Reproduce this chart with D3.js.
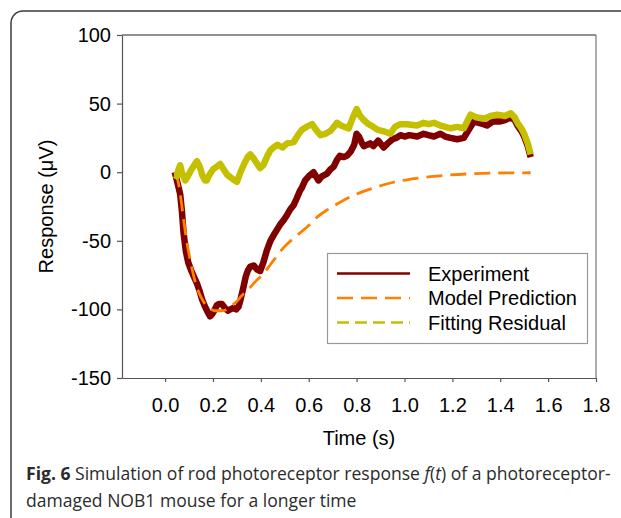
<!DOCTYPE html>
<html>
<head>
<meta charset="utf-8">
<script src="https://cdn.jsdelivr.net/npm/d3@7"></script>
<style>
  body { margin: 0; background: #fff; }
  svg text { font-family: "Liberation Sans", Arial, sans-serif; }
</style>
</head>
<body>
<div class="canvas"></div>
<script>
// data (time in s, response in uV)
const expTime = [0.040, 0.045, 0.055, 0.063, 0.070, 0.077, 0.087, 0.097, 0.110, 0.120, 0.133, 0.145, 0.155, 0.167, 0.178, 0.188, 0.198, 0.205, 0.216, 0.226, 0.237, 0.250, 0.262, 0.272, 0.285, 0.297, 0.307, 0.315, 0.327, 0.337, 0.345, 0.355, 0.370, 0.385, 0.397, 0.410, 0.425, 0.440, 0.453, 0.467, 0.481, 0.495, 0.510, 0.523, 0.537, 0.550, 0.562, 0.572, 0.585, 0.600, 0.620, 0.641, 0.655, 0.677, 0.690, 0.704, 0.718, 0.730, 0.745, 0.760, 0.775, 0.790, 0.800, 0.810, 0.820, 0.830, 0.844, 0.857, 0.870, 0.890, 0.913, 0.930, 0.950, 0.965, 0.983, 1.000, 1.020, 1.053, 1.080, 1.100, 1.123, 1.150, 1.170, 1.192, 1.220, 1.248, 1.265, 1.290, 1.310, 1.330, 1.345, 1.370, 1.400, 1.420, 1.444, 1.460, 1.472, 1.488, 1.500, 1.515, 1.527];
const expValue = [0, -3, -10, -16, -28, -44, -58, -66, -72, -76, -81, -87, -93, -98, -102, -105, -103, -101, -97, -96, -96, -99, -101, -100, -99, -100, -98, -93, -84, -76, -72, -69, -68, -71, -72, -66, -57, -50, -46, -42, -38, -35, -31, -27, -24, -19, -14, -11, -6, -3, 0, -6, -3, -1, 2, 4, 9, 12, 11, 12, 15, 20, 28, 26, 22, 19, 20, 21, 19, 23, 18, 21, 24, 25, 27, 26, 27, 26, 28, 27, 26, 28, 26, 25, 24, 25, 30, 37, 36, 35, 34, 37, 37, 38, 40, 38, 34, 30, 26, 19, 11];

const modelTime = [0.040, 0.050, 0.056, 0.065, 0.077, 0.090, 0.105, 0.120, 0.135, 0.150, 0.167, 0.188, 0.210, 0.237, 0.260, 0.280, 0.300, 0.320, 0.345, 0.370, 0.410, 0.450, 0.495, 0.545, 0.593, 0.640, 0.677, 0.720, 0.774, 0.820, 0.871, 0.950, 1.053, 1.120, 1.192, 1.260, 1.332, 1.430, 1.527];
const modelValue = [0, -4, -8, -18, -34, -50, -64, -76, -85, -91, -96, -99.5, -101, -101, -100, -97, -94, -90, -86, -81, -74, -65, -55, -47, -40, -32, -27.5, -23, -18, -14.5, -11.5, -7.5, -4.4, -3, -2, -1.3, -0.8, -0.5, -0.4];

const resTime = [0.040, 0.049, 0.056, 0.063, 0.070, 0.084, 0.095, 0.110, 0.125, 0.133, 0.145, 0.155, 0.167, 0.174, 0.185, 0.200, 0.215, 0.230, 0.245, 0.260, 0.275, 0.290, 0.300, 0.315, 0.330, 0.345, 0.356, 0.370, 0.385, 0.397, 0.410, 0.425, 0.440, 0.453, 0.470, 0.490, 0.510, 0.537, 0.555, 0.572, 0.590, 0.614, 0.630, 0.649, 0.670, 0.690, 0.705, 0.718, 0.735, 0.750, 0.767, 0.780, 0.800, 0.815, 0.830, 0.850, 0.870, 0.886, 0.910, 0.941, 0.960, 0.983, 1.010, 1.053, 1.080, 1.100, 1.123, 1.150, 1.170, 1.192, 1.220, 1.248, 1.265, 1.276, 1.300, 1.332, 1.360, 1.388, 1.420, 1.444, 1.460, 1.472, 1.488, 1.500, 1.515, 1.527];
const resValue = [-2, -3, 2, 5, 0, -6, -3, 2, 6, 8, 4, -2, -6, -6, -2, 2, 4, 6, 2, -2, -4, -6, -7, 0, 6, 11, 13, 10, 6, 3, 5, 11, 16, 18, 20, 18, 21, 22, 27, 31, 33, 35, 31, 27, 28, 30, 33, 36, 34, 33, 32, 38, 46, 41, 38, 35, 33, 31, 30, 28, 33, 35, 35, 34, 36, 35, 36, 34, 33, 32, 33, 32, 38, 42, 40, 39, 41, 42, 41, 43, 40, 36, 32, 28, 21, 13];

const xTicks = [0, 0.2, 0.4, 0.6, 0.8, 1.0, 1.2, 1.4, 1.6, 1.8];
const yTicks = [100, 50, 0, -50, -100, -150];
const seriesNames = ['Experiment', 'Model Prediction', 'Fitting Residual'];

const svg = d3.select('.canvas')
    .append('svg')
        .attr('width', 621)
        .attr('height', 518);

// outer figure box (rounded corner top left)
svg.append('path')
    .attr('d', 'M11,530 V23 A12,12 0 0 1 23,11 H630')
    .attr('fill', 'none')
    .attr('stroke', '#3a3a3a')
    .attr('stroke-width', 1.5);

// plot area
const plot = {left: 122, right: 596, top: 35, bottom: 378};

const x = d3.scaleLinear()
    .domain([-0.18, 1.8])
    .range([plot.left, plot.right]);

const y = d3.scaleLinear()
    .domain([-150, 100])
    .range([plot.bottom, plot.top]);

const graph = svg.append('g');

// frame: top/right lines
graph.append('line')
    .attr('x1', plot.left).attr('x2', plot.right)
    .attr('y1', plot.top).attr('y2', plot.top)
    .attr('stroke', '#222').attr('stroke-width', 1.2);
graph.append('line')
    .attr('x1', plot.right).attr('x2', plot.right)
    .attr('y1', plot.top).attr('y2', plot.bottom)
    .attr('stroke', '#777').attr('stroke-width', 1.2);

//create and call the axes
const xAxis = d3.axisBottom(x)
    .tickValues(xTicks)
    .tickSize(4)
    .tickSizeOuter(0)
    .tickFormat(d3.format('.1f'));
const yAxis = d3.axisLeft(y)
    .tickValues(yTicks)
    .tickSize(5)
    .tickSizeOuter(0)
    .tickFormat(d => String(d));

const xAxisGroup = graph.append('g')
    .attr('transform', `translate(0, ${plot.bottom})`)
    .call(xAxis);
const yAxisGroup = graph.append('g')
    .attr('transform', `translate(${plot.left}, 0)`)
    .call(yAxis);

[xAxisGroup, yAxisGroup].forEach(g => {
    g.attr('font-family', null).attr('font-size', null);
    g.select('.domain').attr('stroke', '#555').attr('stroke-width', 1.2);
    g.selectAll('.tick line').attr('stroke', '#555').attr('stroke-width', 1.2);
    g.selectAll('text')
        .attr('fill', '#000')
        .style('font-size', '20px');
});
xAxisGroup.selectAll('text').attr('y', 34).attr('dy', 0);
yAxisGroup.selectAll('text').attr('x', -11);

// axis titles
svg.append('text')
    .attr('x', (plot.left + plot.right) / 2)
    .attr('y', 445)
    .attr('text-anchor', 'middle')
    .style('font-size', '20px')
    .text('Time (s)');

svg.append('text')
    .attr('transform', `translate(53, ${(plot.top + plot.bottom) / 2}) rotate(-90)`)
    .attr('text-anchor', 'middle')
    .style('font-size', '20px')
    .text('Response (\u03bcV)');

// series lines
const line = (ts, vs, curve) => d3.line()
    .x(i => x(ts[i]))
    .y(i => y(vs[i]))
    .curve(curve)(d3.range(ts.length));

graph.append('path')
    .attr('d', line(expTime, expValue, d3.curveLinear))
    .attr('fill', 'none')
    .attr('stroke', '#800000')
    .attr('stroke-width', 6.5)
    .attr('stroke-linejoin', 'round');

graph.append('path')
    .attr('d', line(modelTime, modelValue, d3.curveMonotoneX))
    .attr('fill', 'none')
    .attr('stroke', '#ff8000')
    .attr('stroke-width', 2.8)
    .attr('stroke-dasharray', '16,8');

graph.append('path')
    .attr('d', line(resTime, resValue, d3.curveLinear))
    .attr('fill', 'none')
    .attr('stroke', '#c4c000')
    .attr('stroke-width', 6.5)
    .attr('stroke-linejoin', 'round');

// legend
const legend = svg.append('g');
legend.append('rect')
    .attr('x', 327.5).attr('y', 253.5)
    .attr('width', 260).attr('height', 90)
    .attr('fill', '#fff')
    .attr('stroke', '#999')
    .attr('stroke-width', 1.2);

const legendStyles = [
    {color: '#800000', dash: null},
    {color: '#ff8000', dash: '16,8'},
    {color: '#c4c000', dash: '12,6'}
];

seriesNames.forEach((name, i) => {
    const ly = 273.5 + i * 24.5;
    legend.append('line')
        .attr('x1', 337).attr('x2', 410)
        .attr('y1', ly).attr('y2', ly)
        .attr('stroke', legendStyles[i].color)
        .attr('stroke-width', 2.5)
        .attr('stroke-dasharray', legendStyles[i].dash);
    legend.append('text')
        .attr('x', 428)
        .attr('y', ly + 7)
        .style('font-size', '20px')
        .text(name);
});

// caption
const cap1 = svg.append('text')
    .attr('x', 26).attr('y', 480)
    .attr('fill', '#2b2b2b')
    .style('font-family', '"Open Sans", "Noto Sans", sans-serif')
    .style('font-size', '17px');
cap1.append('tspan').style('font-weight', 'bold').text('Fig. 6');
cap1.append('tspan').text(' Simulation of rod photoreceptor response ');
cap1.append('tspan').style('font-style', 'italic').text('f');
cap1.append('tspan').text('(');
cap1.append('tspan').style('font-style', 'italic').text('t');
cap1.append('tspan').text(') of a photoreceptor-');

const cap2 = svg.append('text')
    .attr('x', 26).attr('y', 507)
    .attr('fill', '#2b2b2b')
    .style('font-family', '"Open Sans", "Noto Sans", sans-serif')
    .style('font-size', '17px')
    .text('damaged NOB1 mouse for a longer time');

// fit caption width to the figure
const w1 = cap1.node().getComputedTextLength();
const fs = 17 * 585 / w1;
cap1.style('font-size', fs + 'px');
cap2.style('font-size', fs + 'px');
</script>
</body>
</html>
